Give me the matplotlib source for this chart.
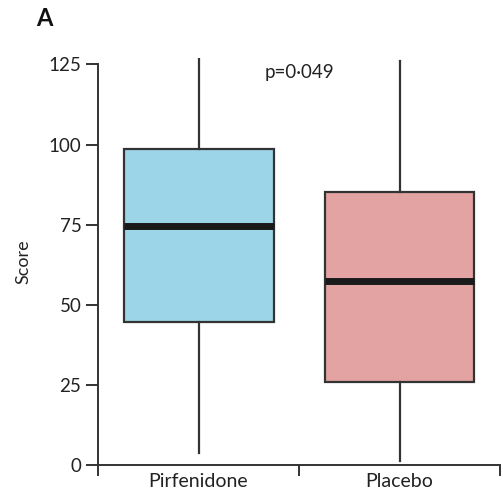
import matplotlib
matplotlib.use("Agg")
import matplotlib.pyplot as plt

plt.rcParams["font.family"] = ["Lato", "DejaVu Sans"]

# Values
groups = ["Pirfenidone", "Placebo"]
whisker_low = [3.8, 1.2]
quartile1 = [44.6, 25.9]
medians = [74.5, 57.4]
quartile3 = [98.5, 85.3]
whisker_high = [127.0, 126.0]
box_colors = ["#9dd5e8", "#e3a3a3"]
y_ticks = [0, 25, 50, 75, 100, 125]

stats = []
for i, name in enumerate(groups):
    stats.append({
        "label": name,
        "whislo": whisker_low[i],
        "q1": quartile1[i],
        "med": medians[i],
        "q3": quartile3[i],
        "whishi": whisker_high[i],
    })

fig = plt.figure(figsize=(5.03, 5.0), dpi=100)
ax = fig.add_axes([0.195, 0.07, 0.799, 0.814])

edge = "#333333"
bp = ax.bxp(
    stats,
    positions=[0.5, 1.5],
    widths=0.746,
    showfliers=False,
    patch_artist=True,
    showcaps=False,
    boxprops=dict(edgecolor=edge, linewidth=1.6),
    whiskerprops=dict(color=edge, linewidth=1.6),
    medianprops=dict(color="#1a1a1a", linewidth=5, solid_capstyle="butt"),
)
for patch, c in zip(bp["boxes"], box_colors):
    patch.set_facecolor(c)

ax.set_xlim(0, 2)
ax.set_ylim(0, 127)
ax.spines["top"].set_visible(False)
ax.spines["right"].set_visible(False)
ax.spines["left"].set_bounds(0, 125)
for s in ("left", "bottom"):
    ax.spines[s].set_color(edge)
    ax.spines[s].set_linewidth(1.4)

ax.set_yticks(y_ticks)
ax.tick_params(axis="y", direction="out", length=9, width=1.4, color=edge,
               labelsize=13.5, labelcolor="#222222", pad=3)

# major ticks at group boundaries, labels at group centres
ax.set_xticks([0, 1, 2])
ax.set_xticklabels([])
ax.set_xticks([0.5, 1.5], minor=True)
ax.set_xticklabels(groups, minor=True)
ax.tick_params(axis="x", which="major", direction="out", length=8, width=1.4, color=edge)
ax.tick_params(axis="x", which="minor", length=0, labelsize=14,
               labelcolor="#222222", pad=6)

ax.set_ylabel("Score", fontsize=13, color="#222222", labelpad=12)
ax.text(1.0, 122.5, "p=0\u00b7049", ha="center", va="center",
        fontsize=13.5, color="#222222")
fig.text(0.088, 0.963, "A", fontsize=17, fontweight="bold", ha="center", va="center",
         color="#111111")

fig.savefig("out.png", dpi=100)
